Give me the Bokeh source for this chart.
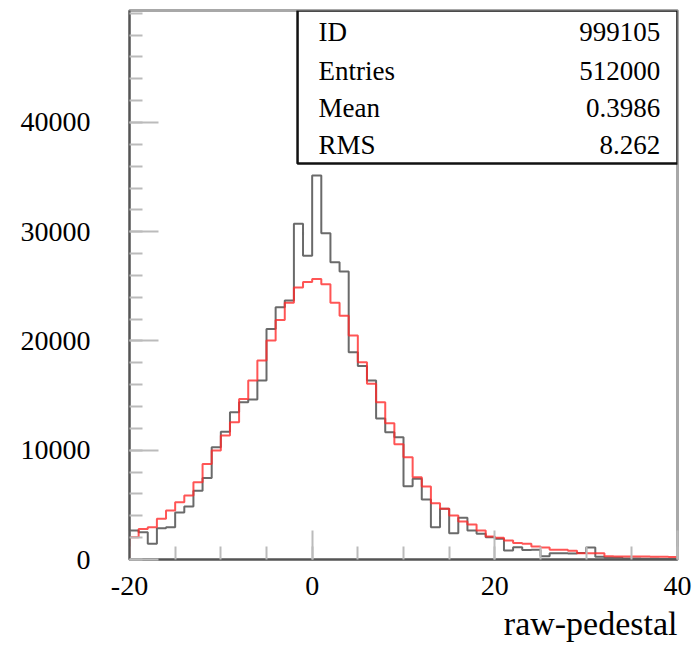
import numpy as np
from bokeh.plotting import figure
from bokeh.models import FixedTicker, Label, Title
from bokeh.embed import file_html
from bokeh.resources import INLINE

# ---- data ----
bin_lo, bin_hi, n_bins = -20, 40, 60

data_counts = [
    2650, 2500, 1440, 2850, 2950, 4300, 4850, 6300, 7450, 10280,
    11700, 13480, 14400, 14650, 16380, 21100, 23080, 23700, 30740, 27800,
    35140, 29860, 27200, 26350, 18970, 17700, 16380, 12900, 11650, 11190,
    6710, 7380, 5490, 2960, 4640, 2410, 3810, 2650, 2350, 2040,
    1900, 820, 1130, 860, 900, 300, 580, 580, 550, 600,
    1100, 250, 150, 150, 100, 100, 80, 80, 50, 50,
]
ref_counts = [
    2040, 2800, 2950, 3720, 4480, 5240, 5860, 7080, 8750, 9970,
    11350, 12560, 14700, 16380, 18210, 20040, 21930, 23500, 24900, 25400,
    25680, 25200, 23500, 22300, 20500, 18050, 16080, 14390, 12480, 10550,
    9360, 7530, 6680, 5150, 4640, 4030, 3480, 3200, 2650, 2100,
    1980, 1740, 1500, 1450, 1190, 1100, 890, 890, 800, 580,
    580, 580, 300, 280, 280, 270, 270, 250, 250, 230,
]
x_ticks = [-20, 0, 20, 40]
y_ticks = [0, 10000, 20000, 30000, 40000]
stat_names = ["ID", "Entries", "Mean", "RMS"]
stat_values = ["999105", "512000", "0.3986", "8.262"]
x_title = "raw-pedestal"

# ---- figure ----
y_top = 50250
p = figure(width=694, height=649, x_range=(bin_lo, bin_hi), y_range=(0, y_top),
           output_backend="svg", toolbar_location=None)
p.min_border = 0
p.min_border_left = 129
p.min_border_right = 17
p.min_border_top = 10
p.min_border_bottom = 90
p.xgrid.visible = False
p.ygrid.visible = False
p.background_fill_color = "white"
p.border_fill_color = "white"
p.outline_line_color = "#a8a8a8"
p.outline_line_width = 3

edges = np.linspace(bin_lo, bin_hi, n_bins + 1)


def outline(vals):
    xs = np.repeat(edges, 2)
    ys = np.concatenate([[0], np.repeat(np.asarray(vals, float), 2), [0]])
    return xs, ys


gx, gy = outline(data_counts)
rx, ry = outline(ref_counts)
p.line(gx, gy, line_color="#6a6a6a", line_width=2)
p.line(rx, ry, line_color="#ff2a2a", line_width=2, line_alpha=0.8)

# ---- axes ----
p.xaxis.ticker = FixedTicker(ticks=x_ticks, minor_ticks=list(range(bin_lo, bin_hi + 1, 5)))
p.yaxis.ticker = FixedTicker(ticks=y_ticks, minor_ticks=list(range(0, y_top, 2000)))
p.xaxis.major_label_overrides = {t: str(t) for t in x_ticks}
p.yaxis.major_label_overrides = {t: str(t) for t in y_ticks}
for ax in (p.xaxis[0], p.yaxis[0]):
    ax.axis_line_color = "#555555"
    ax.axis_line_width = 2
    ax.major_tick_line_color = "#bbbbbb"
    ax.major_tick_line_width = 2
    ax.major_tick_in = 29
    ax.major_tick_out = 0
    ax.minor_tick_line_color = "#bbbbbb"
    ax.minor_tick_line_width = 2
    ax.minor_tick_in = 13
    ax.minor_tick_out = 0
    ax.major_label_text_font = "Liberation Serif"
    ax.major_label_text_font_size = "28px"
    ax.major_label_text_color = "black"
p.yaxis.major_label_standoff = 39
p.xaxis.major_label_standoff = 17

# axis title, right-aligned under the end of the x axis
p.add_layout(Title(text=x_title, align="right", text_font="Liberation Serif",
                   text_font_size="34px", text_font_style="normal",
                   text_color="black", standoff=10), "below")

# ---- stats box ----
box_left = -1.6
box_bottom = 36250
p.quad(left=[box_left], right=[bin_hi], bottom=[box_bottom], top=[y_top],
       fill_color="white", line_color="#111111", line_width=2.5)
row_y = [48310, 44740, 41360, 37970]
for name, val, yy in zip(stat_names, stat_values, row_y):
    p.add_layout(Label(x=0.7, y=yy, text=name, text_align="left", text_baseline="middle",
                       text_font="Liberation Serif", text_font_size="27px", text_color="black"))
    p.add_layout(Label(x=38.1, y=yy, text=val, text_align="right", text_baseline="middle",
                       text_font="Liberation Serif", text_font_size="27px", text_color="black"))

open("out.html", "w").write(file_html(p, INLINE))
